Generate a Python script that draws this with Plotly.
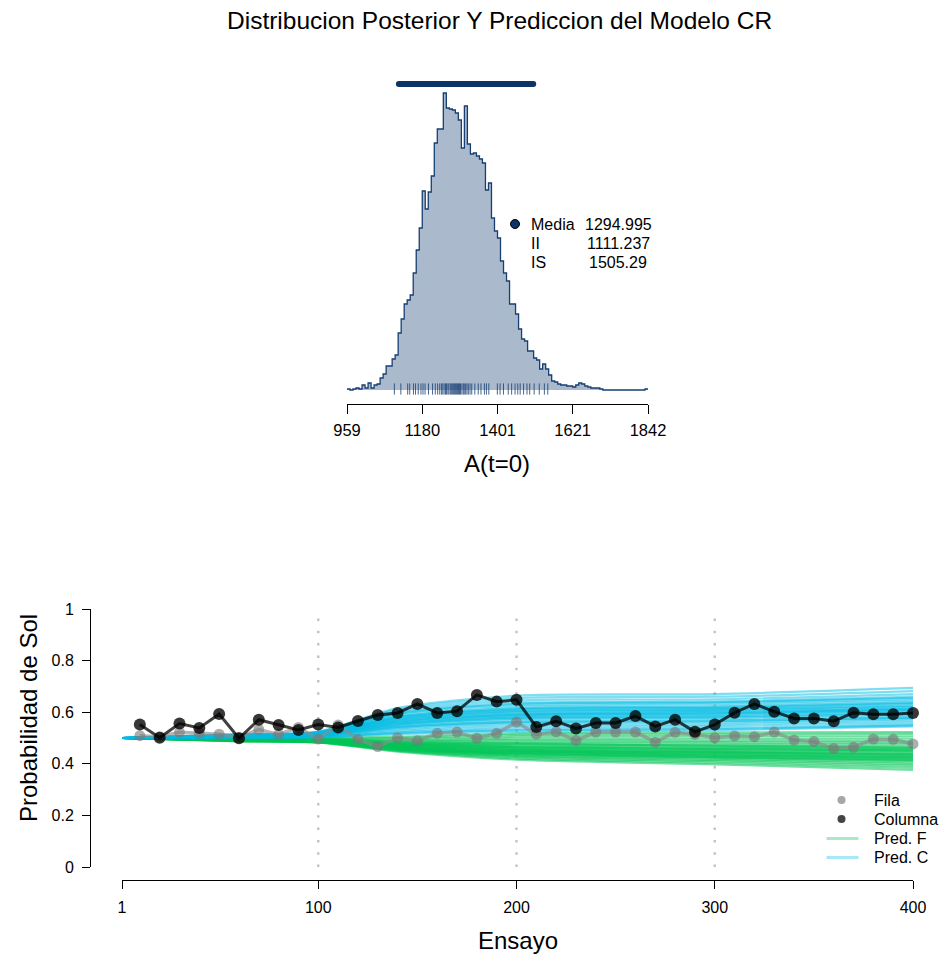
import plotly.graph_objects as go

W, H = 941, 955
FONT = "Liberation Sans, Arial, sans-serif"

# ---------------- data ----------------
title_text = "Distribucion Posterior Y Prediccion del Modelo CR"

hist_lo, hist_hi = 959, 1842
hist_counts = [1, 0, 1, 2, 1, 5, 2, 7, 2, 5, 6, 12, 16, 24, 24, 31, 35, 57, 71, 86,
               90, 95, 117, 140, 162, 199, 181, 198, 214, 247, 261, 261, 297, 282,
               281, 280, 277, 270, 242, 284, 246, 236, 237, 234, 231, 227, 200, 207, 172, 159,
               152, 129, 117, 109, 86, 86, 76, 61, 51, 49, 39, 39, 32, 30, 21, 26, 21,
               15, 9, 8, 6, 5, 5, 4, 4, 3, 5, 7, 6, 4, 3, 2, 2, 2, 1,
               0, 0, 0, 0, 0, 0, 0, 0, 0, 0, 0, 0, 0, 0, 1]
hist_ticks = [959, 1180, 1401, 1621, 1842]
hdi = [1111.237, 1505.29]
media = 1294.995
stat_labels = ["Media", "II", "IS"]
stat_values = ["1294.995", "1111.237", "1505.29"]
rug = [1098, 1117, 1137, 1143, 1154, 1160, 1168, 1176, 1182, 1188, 1198, 1210, 1218,
       1225, 1231, 1236, 1240, 1244, 1248, 1251, 1255, 1258, 1262, 1265, 1268, 1271,
       1274, 1277, 1280, 1283, 1286, 1289, 1292, 1296, 1300, 1303, 1307, 1311, 1315,
       1320, 1325, 1334, 1344, 1352, 1362, 1368, 1375, 1400, 1408, 1418, 1432, 1442,
       1452, 1460, 1467, 1477, 1487, 1495, 1508, 1523, 1538, 1548]

trials = list(range(10, 401, 10))
fila = [0.509, 0.505, 0.522, 0.518, 0.515, 0.502, 0.533, 0.514, 0.541, 0.496,
        0.550, 0.495, 0.467, 0.501, 0.489, 0.518, 0.523, 0.499, 0.518, 0.562,
        0.515, 0.524, 0.490, 0.523, 0.523, 0.523, 0.484, 0.522, 0.514, 0.501,
        0.508, 0.505, 0.523, 0.492, 0.486, 0.459, 0.464, 0.496, 0.495, 0.477]
columna = [0.552, 0.501, 0.556, 0.539, 0.593, 0.499, 0.571, 0.550, 0.531, 0.552,
           0.541, 0.566, 0.589, 0.597, 0.632, 0.597, 0.604, 0.667, 0.641, 0.648,
           0.543, 0.565, 0.537, 0.558, 0.558, 0.585, 0.545, 0.571, 0.524, 0.552,
           0.598, 0.632, 0.602, 0.576, 0.576, 0.565, 0.598, 0.592, 0.592, 0.597]

pred_knots = [1, 60, 100, 140, 200, 300, 400]
pred_f = [
    [0.5, 0.500, 0.500, 0.505, 0.518, 0.522, 0.523],
    [0.5, 0.499, 0.498, 0.500, 0.512, 0.515, 0.516],
    [0.5, 0.498, 0.497, 0.495, 0.505, 0.507, 0.506],
    [0.5, 0.498, 0.496, 0.490, 0.498, 0.498, 0.497],
    [0.5, 0.497, 0.495, 0.487, 0.492, 0.490, 0.488],
    [0.5, 0.497, 0.494, 0.484, 0.486, 0.484, 0.481],
    [0.5, 0.496, 0.493, 0.481, 0.480, 0.477, 0.474],
    [0.5, 0.496, 0.492, 0.479, 0.475, 0.471, 0.467],
    [0.5, 0.495, 0.491, 0.477, 0.471, 0.466, 0.461],
    [0.5, 0.495, 0.491, 0.475, 0.467, 0.462, 0.456],
    [0.5, 0.494, 0.490, 0.473, 0.463, 0.457, 0.451],
    [0.5, 0.494, 0.489, 0.471, 0.460, 0.453, 0.447],
    [0.5, 0.493, 0.489, 0.470, 0.457, 0.449, 0.442],
    [0.5, 0.493, 0.488, 0.468, 0.454, 0.446, 0.438],
    [0.5, 0.492, 0.488, 0.466, 0.451, 0.442, 0.434],
    [0.5, 0.492, 0.487, 0.465, 0.448, 0.439, 0.430],
    [0.5, 0.491, 0.487, 0.463, 0.446, 0.436, 0.426],
    [0.5, 0.491, 0.486, 0.462, 0.443, 0.432, 0.421],
    [0.5, 0.490, 0.486, 0.460, 0.440, 0.428, 0.416],
    [0.5, 0.490, 0.485, 0.458, 0.437, 0.424, 0.411],
    [0.5, 0.489, 0.485, 0.456, 0.433, 0.420, 0.405],
    [0.5, 0.489, 0.484, 0.454, 0.430, 0.415, 0.399],
    [0.5, 0.488, 0.484, 0.452, 0.426, 0.410, 0.392],
    [0.5, 0.488, 0.483, 0.450, 0.421, 0.404, 0.384],
    [0.5, 0.487, 0.482, 0.447, 0.416, 0.398, 0.376],
    [0.5, 0.495, 0.490, 0.474, 0.465, 0.458, 0.452],
    [0.5, 0.493, 0.488, 0.469, 0.452, 0.444, 0.436],
    [0.5, 0.491, 0.486, 0.461, 0.444, 0.433, 0.424],
    [0.5, 0.496, 0.492, 0.480, 0.478, 0.470, 0.463],
    [0.5, 0.490, 0.485, 0.457, 0.438, 0.426, 0.414],
]
pred_c = [
    [0.5, 0.501, 0.502, 0.515, 0.525, 0.530, 0.545],
    [0.5, 0.502, 0.504, 0.522, 0.534, 0.538, 0.553],
    [0.5, 0.503, 0.505, 0.528, 0.542, 0.546, 0.560],
    [0.5, 0.503, 0.507, 0.533, 0.550, 0.553, 0.567],
    [0.5, 0.504, 0.508, 0.538, 0.557, 0.560, 0.574],
    [0.5, 0.505, 0.509, 0.543, 0.563, 0.567, 0.580],
    [0.5, 0.505, 0.510, 0.547, 0.569, 0.573, 0.586],
    [0.5, 0.506, 0.511, 0.551, 0.575, 0.579, 0.592],
    [0.5, 0.506, 0.512, 0.555, 0.580, 0.585, 0.598],
    [0.5, 0.507, 0.513, 0.559, 0.585, 0.590, 0.604],
    [0.5, 0.507, 0.514, 0.563, 0.590, 0.596, 0.610],
    [0.5, 0.508, 0.515, 0.567, 0.595, 0.601, 0.615],
    [0.5, 0.508, 0.516, 0.571, 0.600, 0.606, 0.620],
    [0.5, 0.509, 0.517, 0.575, 0.605, 0.611, 0.626],
    [0.5, 0.509, 0.518, 0.579, 0.610, 0.616, 0.632],
    [0.5, 0.510, 0.519, 0.583, 0.615, 0.621, 0.638],
    [0.5, 0.511, 0.520, 0.588, 0.621, 0.627, 0.645],
    [0.5, 0.511, 0.521, 0.593, 0.628, 0.634, 0.652],
    [0.5, 0.512, 0.522, 0.598, 0.636, 0.641, 0.660],
    [0.5, 0.513, 0.523, 0.604, 0.645, 0.650, 0.670],
    [0.5, 0.514, 0.524, 0.610, 0.655, 0.660, 0.682],
    [0.5, 0.515, 0.525, 0.616, 0.664, 0.670, 0.694],
    [0.5, 0.504, 0.509, 0.541, 0.561, 0.565, 0.578],
    [0.5, 0.506, 0.512, 0.553, 0.578, 0.582, 0.595],
    [0.5, 0.508, 0.515, 0.566, 0.593, 0.599, 0.613],
    [0.5, 0.510, 0.518, 0.581, 0.612, 0.618, 0.635],
    [0.5, 0.502, 0.503, 0.519, 0.530, 0.534, 0.549],
    [0.5, 0.507, 0.513, 0.560, 0.588, 0.593, 0.607],
    [0.5, 0.509, 0.517, 0.573, 0.603, 0.609, 0.623],
    [0.5, 0.512, 0.521, 0.595, 0.632, 0.638, 0.656],
]
vlines = [100, 200, 300]
x2_ticks = [1, 100, 200, 300, 400]
y2_ticks = [0, 0.2, 0.4, 0.6, 0.8, 1]
y2_ticktext = ["0", "0.2", "0.4", "0.6", "0.8", "1"]
legend_labels = ["Fila", "Columna", "Pred. F", "Pred. C"]

# ---------------- styling / layout helpers ----------------
NAVY = "#173f72"
HIST_FILL = "#abb9cd"
GREEN = "rgba(0,196,86,0.55)"
CYAN = "rgba(0,188,228,0.5)"

def px(p):
    return p / W

def py(p):
    return 1 - p / H

# top panel pixel layout
TOP_L, TOP_R = 347, 648
TOP_AX, TOP_T = 404, 75
TOP_BASE = 390

def top_x(p):
    return hist_lo + (p - TOP_L) * (hist_hi - hist_lo) / (TOP_R - TOP_L)

def top_y(p):
    return TOP_BASE - p

# bottom panel pixel layout
BOT_L, BOT_R = 122, 913
BOT_Y0, BOT_Y1 = 867, 609

def bot_x(p):
    return 1 + (p - BOT_L) * 399 / (BOT_R - BOT_L)

def bot_y(p):
    return (BOT_Y0 - p) / (BOT_Y0 - BOT_Y1)

fig = go.Figure()

# ---------------- histogram ----------------
nb = len(hist_counts)
bw = (hist_hi - hist_lo) / nb
edges = [hist_lo + i * bw for i in range(nb + 1)]
fig.add_trace(go.Scatter(
    x=edges, y=hist_counts + [hist_counts[-1]], mode="lines",
    line=dict(shape="hv", color=NAVY, width=1.3),
    fill="tozeroy", fillcolor=HIST_FILL, xaxis="x", yaxis="y",
    showlegend=False, hoverinfo="skip"))

# rug
fig.add_trace(go.Scatter(
    x=rug, y=[top_y(389)] * len(rug), mode="markers",
    marker=dict(symbol="line-ns", size=8, line=dict(width=1, color="rgba(23,63,114,0.8)")),
    xaxis="x", yaxis="y", showlegend=False, hoverinfo="skip", cliponaxis=False))

# HDI bar
fig.add_trace(go.Scatter(
    x=hdi, y=[top_y(84)] * 2, mode="lines+markers",
    line=dict(color="#0d3466", width=6), marker=dict(color="#0d3466", size=6),
    xaxis="x", yaxis="y", showlegend=False, hoverinfo="skip", cliponaxis=False))

# statistics legend dot
fig.add_trace(go.Scatter(
    x=[top_x(515)], y=[top_y(224)], mode="markers",
    marker=dict(color="#0d3466", size=9, line=dict(color="black", width=1)),
    xaxis="x", yaxis="y", showlegend=False, hoverinfo="skip", cliponaxis=False))

annotations = []
for i, (lab, val) in enumerate(zip(stat_labels, stat_values)):
    yy = py(224 + i * 19)
    annotations.append(dict(x=px(529), y=yy, xref="paper", yref="paper", text=lab,
                            showarrow=False, xanchor="left", yanchor="middle",
                            font=dict(size=16, color="black", family=FONT)))
    annotations.append(dict(x=px(618), y=yy, xref="paper", yref="paper", text=val,
                            showarrow=False, xanchor="center", yanchor="middle",
                            font=dict(size=16, color="black", family=FONT)))

# ---------------- bottom panel ----------------
shapes = []
for v in vlines:
    shapes.append(dict(type="line", xref="x2", yref="y2", x0=v, x1=v, y0=0, y1=0.975,
                       line=dict(color="#c4c4c4", width=2.5, dash="2.5px,9.8px"),
                       layer="below"))

for vals in pred_f:
    fig.add_trace(go.Scatter(x=pred_knots, y=vals, mode="lines",
                             line=dict(color=GREEN, width=2.2, shape="spline", smoothing=0.8),
                             xaxis="x2", yaxis="y2", showlegend=False, hoverinfo="skip"))
for vals in pred_c:
    fig.add_trace(go.Scatter(x=pred_knots, y=vals, mode="lines",
                             line=dict(color=CYAN, width=2.2, shape="spline", smoothing=0.8),
                             xaxis="x2", yaxis="y2", showlegend=False, hoverinfo="skip"))

fig.add_trace(go.Scatter(x=trials, y=fila, mode="lines+markers",
                         line=dict(color="rgba(140,140,140,0.65)", width=3.5),
                         marker=dict(color="rgba(120,120,120,0.6)", size=11),
                         xaxis="x2", yaxis="y2", showlegend=False, hoverinfo="skip",
                         cliponaxis=False))
fig.add_trace(go.Scatter(x=trials, y=columna, mode="lines+markers",
                         line=dict(color="rgba(0,0,0,0.75)", width=3),
                         marker=dict(color="rgba(0,0,0,0.78)", size=12),
                         xaxis="x2", yaxis="y2", showlegend=False, hoverinfo="skip",
                         cliponaxis=False))

# legend (bottom right)
leg_rows = [800, 819, 838.5, 857.5]
fig.add_trace(go.Scatter(x=[bot_x(841.5)] * 2, y=[bot_y(leg_rows[0]), bot_y(leg_rows[1])],
                         mode="markers",
                         marker=dict(color=["#a6a6a6", "#444444"], size=8),
                         xaxis="x2", yaxis="y2", showlegend=False, hoverinfo="skip",
                         cliponaxis=False))
for r, col in zip(leg_rows[2:], ["rgba(0,196,92,0.35)", "rgba(0,188,226,0.35)"]):
    fig.add_trace(go.Scatter(x=[bot_x(826.5), bot_x(858.5)], y=[bot_y(r)] * 2, mode="lines",
                             line=dict(color=col, width=3),
                             xaxis="x2", yaxis="y2", showlegend=False, hoverinfo="skip",
                             cliponaxis=False))
for r, lab in zip(leg_rows, legend_labels):
    annotations.append(dict(x=px(872), y=py(r), xref="paper", yref="paper", text=lab,
                            showarrow=False, xanchor="left", yanchor="middle",
                            font=dict(size=16, color="black", family=FONT)))

# titles
annotations.append(dict(x=px(499), y=py(20), xref="paper", yref="paper", text=title_text,
                        showarrow=False, xanchor="center", yanchor="middle",
                        font=dict(size=24.5, color="black", family=FONT)))
annotations.append(dict(x=px(497), y=py(463), xref="paper", yref="paper", text="A(t=0)",
                        showarrow=False, xanchor="center", yanchor="middle",
                        font=dict(size=24, color="black", family=FONT)))
annotations.append(dict(x=px(518), y=py(940), xref="paper", yref="paper", text="Ensayo",
                        showarrow=False, xanchor="center", yanchor="middle",
                        font=dict(size=24, color="black", family=FONT)))
annotations.append(dict(x=px(28), y=py(718), xref="paper", yref="paper",
                        text="Probabilidad de Sol", textangle=-90,
                        showarrow=False, xanchor="center", yanchor="middle",
                        font=dict(size=24, color="black", family=FONT)))

fig.update_layout(
    template="none",
    width=W, height=H, margin=dict(l=0, r=0, t=0, b=0, autoexpand=False),
    paper_bgcolor="white", plot_bgcolor="white",
    font=dict(family=FONT, color="black"),
    showlegend=False,
    annotations=annotations, shapes=shapes,
    xaxis=dict(domain=[px(TOP_L), px(TOP_R)], range=[hist_lo, hist_hi], anchor="y",
               showline=True, linecolor="black", linewidth=1, ticks="outside", ticklen=9,
               tickcolor="black", tickvals=hist_ticks, tickfont=dict(size=16.5),
               ticklabelstandoff=2,
               showgrid=False, zeroline=False, fixedrange=True, automargin=False),
    yaxis=dict(domain=[py(TOP_AX), py(TOP_T)], range=[top_y(TOP_AX), top_y(TOP_T)],
               visible=False, fixedrange=True, automargin=False, showgrid=False,
               zeroline=False),
    xaxis2=dict(domain=[px(BOT_L), px(BOT_R)], range=[1, 400], anchor="free",
                position=py(880), showline=True, linecolor="black", linewidth=1,
                ticks="outside", ticklen=8, tickcolor="black", tickvals=x2_ticks,
                tickfont=dict(size=16), ticklabelstandoff=5,
                showgrid=False, zeroline=False, fixedrange=True,
                automargin=False),
    yaxis2=dict(domain=[py(BOT_Y0), py(BOT_Y1)], range=[0, 1], anchor="free",
                position=px(90), showline=True, linecolor="black", linewidth=1,
                ticks="outside", ticklen=8, tickcolor="black", tickvals=y2_ticks,
                ticktext=y2_ticktext, tickfont=dict(size=16), ticklabelstandoff=5,
                showgrid=False, zeroline=False, fixedrange=True, automargin=False),
)

fig.write_html("out.html")
